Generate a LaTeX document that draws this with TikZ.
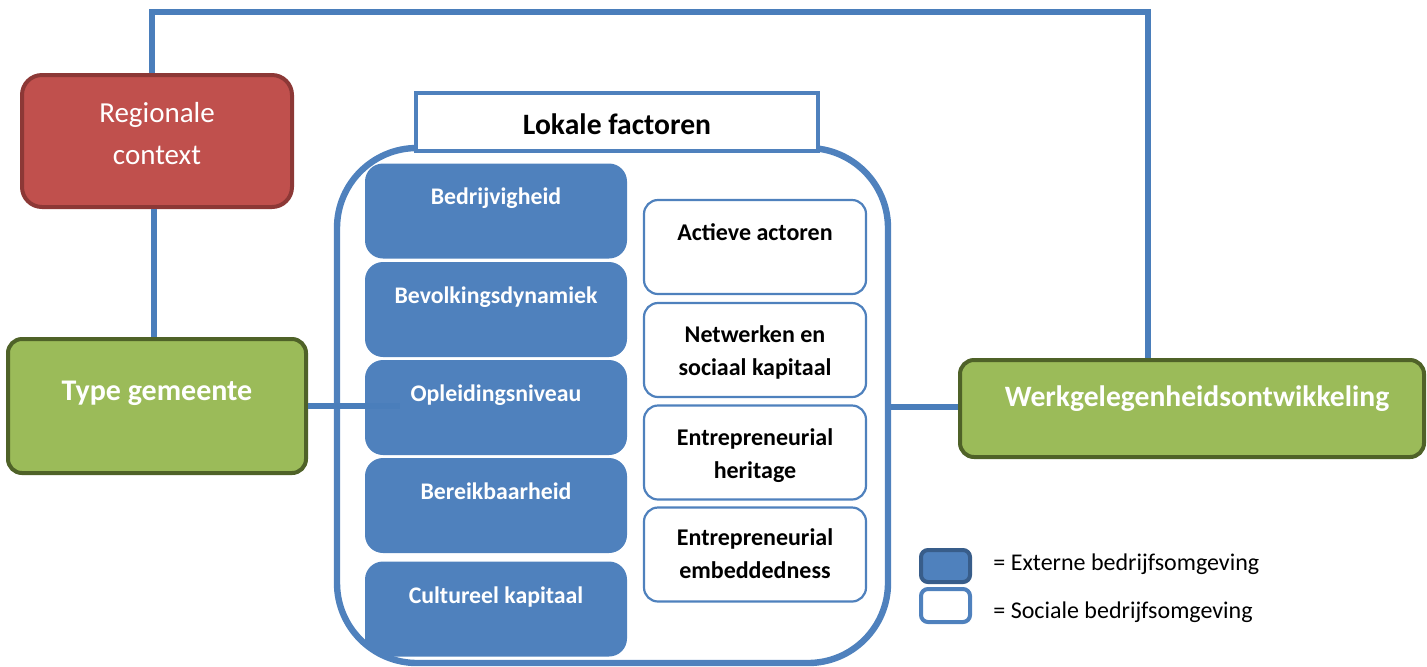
\documentclass[tikz,border=0pt]{standalone}
\usepackage{fontspec}
\setmainfont{Carlito}
\definecolor{ublue}{HTML}{4F81BD}
\definecolor{lblue}{HTML}{4A7EBB}
\definecolor{dblue}{HTML}{385D8A}
\definecolor{rfill}{HTML}{C0504D}
\definecolor{rdraw}{HTML}{8C3836}
\definecolor{gfill}{HTML}{9BBB59}
\definecolor{gdraw}{HTML}{4F6228}
\begin{document}
\begin{tikzpicture}[x=0.5pt,y=-0.5pt,
  conn/.style={draw=lblue,line width=3.2pt},
  redbox/.style={draw=rdraw,fill=rfill,line width=2pt,rounded corners=10pt,inner sep=0pt,minimum width=135pt,minimum height=66pt},
  greenbox/.style={draw=gdraw,fill=gfill,line width=2pt,rounded corners=7pt,inner sep=0pt},
  extbox/.style={fill=ublue,rounded corners=9pt,inner sep=0pt,minimum width=131pt,minimum height=47.5pt},
  socbox/.style={draw=ublue,fill=white,line width=1.1pt,rounded corners=7pt,inner sep=0pt,minimum width=111pt,minimum height=47pt},
  exttxt/.style={anchor=base,text=white,font=\fontsize{11.9}{14}\selectfont\bfseries},
  soctxt/.style={anchor=base,align=center,font=\fontsize{12}{16.5}\selectfont\bfseries},
  legtxt/.style={anchor=base west,inner sep=0pt,font=\fontsize{12}{15}\selectfont}]
\useasboundingbox (0,0) rectangle (1427,666);

% coordinates of the feedback connector
\coordinate (tl) at (152,12);
\coordinate (tr) at (1148,12);
\coordinate (tend) at (400,406);

% outer boxes
\node[redbox] (reg) at (157,141) {};
\node[anchor=base,align=center,text=white,font=\fontsize{14.5}{21}\selectfont] (regt) at (157,164) {Regionale\\context};
\node[greenbox,minimum width=149pt,minimum height=67pt] (typ) at (157,406) {};
\node[anchor=base,text=white,font=\fontsize{15}{18}\selectfont\bfseries] (typt) at (157,400) {Type gemeente};
\node[greenbox,minimum width=232pt,minimum height=48.5pt] (werk) at (1192,408.5) {};
\node[anchor=base,text=white,font=\fontsize{14.8}{17}\selectfont\bfseries] (werkt) at (1197,406) {Werkgelegenheidsontwikkeling};

% connectors behind
\draw[conn] (tl |- reg.north) -- (tl) -- (tr) -- (tr |- werk.north);
\draw[conn] (reg.south -| 154,0) -- (typ.north -| 154,0);

% inner boxes, clipped by the container
\begin{scope}
  \clip[rounded corners=40pt] (337,148) rectangle (888,663);
  \node[extbox] (b1) at (496,211) {};
  \node[extbox] (b2) at (496,309.5) {};
  \node[extbox] (b3) at (496,407.5) {};
  \node[extbox] (b4) at (496,505.5) {};
  \node[extbox] (b5) at (496,609) {};
\end{scope}
\node[exttxt] (b1t) at (496,204) {Bedrijvigheid};
\node[exttxt] (b2t) at (496,303) {Bevolkingsdynamiek};
\node[exttxt] (b3t) at (496,401) {Opleidingsniveau};
\node[exttxt] (b4t) at (496,499) {Bereikbaarheid};
\node[exttxt] (b5t) at (496,603) {Cultureel kapitaal};

\node[socbox] (w1) at (755,247) {};
\node[socbox] (w2) at (755,350) {};
\node[socbox] (w3) at (755,452.5) {};
\node[socbox] (w4) at (755,554.5) {};
\node[soctxt] (w1t) at (755,240) {Actieve actoren};
\node[soctxt] (w2t) at (755,375) {Netwerken en\\sociaal kapitaal};
\node[soctxt] (w3t) at (755,478) {Entrepreneurial\\heritage};
\node[soctxt] (w4t) at (755,578) {Entrepreneurial\\embeddedness};

% container
\node[draw=ublue,line width=3.2pt,rounded corners=40pt,inner sep=0pt,minimum width=275.5pt,minimum height=257.5pt] (cont) at (612.5,405.5) {};
\node[draw=ublue,fill=white,line width=2.2pt,inner sep=0pt,minimum width=201pt,minimum height=29pt] (hdr) at (617,122) {};
\node[anchor=base,font=\fontsize{14.8}{17}\selectfont\bfseries] (hdrt) at (617,134) {Lokale factoren};

% connectors in front
\draw[conn] (typ.east |- tend) -- (tend);
\draw[conn] (cont.east |- 0,407) -- (werk.west |- 0,407);

% legend
\node[draw=dblue,fill=ublue,line width=2pt,rounded corners=3.5pt,inner sep=0pt,minimum width=24.5pt,minimum height=16pt] (l1) at (945.5,566) {};
\node[draw=ublue,fill=white,line width=2pt,rounded corners=3.5pt,inner sep=0pt,minimum width=24.5pt,minimum height=16.5pt] (l2) at (945.5,605.5) {};
\node[legtxt] (l1t) at (993,570) {= Externe bedrijfsomgeving};
\node[legtxt] (l2t) at (993,618) {= Sociale bedrijfsomgeving};
\end{tikzpicture}
\end{document}
